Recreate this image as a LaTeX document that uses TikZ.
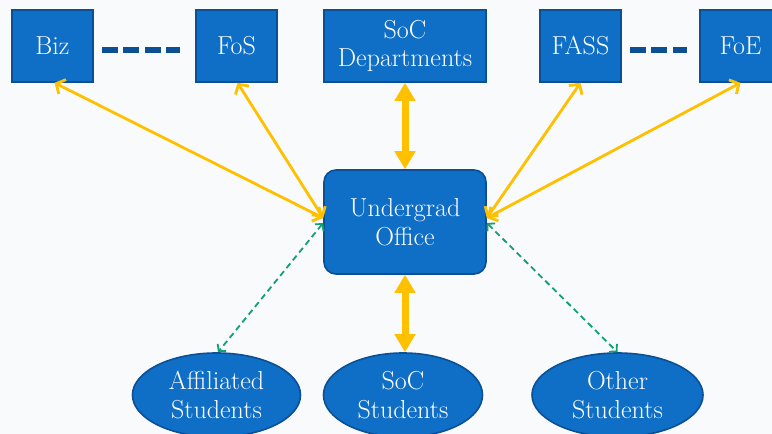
\documentclass[tikz,border=0pt]{standalone}
\usepackage{tikz}
\usepackage{xcolor}
\usetikzlibrary{arrows.meta}
\usetikzlibrary{shapes}
\definecolor{kasten}{HTML}{0F6FC6}
\definecolor{rand}{HTML}{0B4F94}
\definecolor{gelb}{HTML}{FFC000}
\definecolor{gruen}{HTML}{12A070}
\definecolor{grund}{HTML}{F8FAFC}
\tikzset{
  fakultaet/.style={draw=rand, line width=1.6pt, fill=kasten, text=white,
    minimum width=81pt, minimum height=72pt, inner sep=0pt, align=center,
    font=\fontsize{26}{28.5}\selectfont},
  buero/.style={fakultaet, minimum width=162pt, minimum height=104pt, rounded corners=12pt},
  gruppe/.style={fakultaet, ellipse, minimum width=168pt, minimum height=84pt},
  strich/.style={draw=rand, line width=5.5pt, dash pattern=on 16pt off 5.5pt},
  duenn/.style={draw=gelb, line width=2.8pt, {Straight Barb[length=7pt,width=16pt]}-{Straight Barb[length=7pt,width=16pt]}},
  dick/.style={draw=gelb, line width=7pt, {Triangle[length=18pt,width=20pt]}-{Triangle[length=18pt,width=20pt]}},
  lose/.style={draw=gruen, line width=1.8pt, dash pattern=on 6pt off 4pt, {Straight Barb[length=5pt,width=11pt]}-{Straight Barb[length=5pt,width=11pt]}}
}
\begin{document}
\begin{tikzpicture}[x=1pt, y=1pt]
\useasboundingbox (0,0) rectangle (772,434);
\fill[grund] (0,0) rectangle (772,434);
% obere Reihe:
\node[fakultaet] (biz) at (52.5,388) {Biz};
\node[fakultaet] (fos) at (236.5,388) {FoS};
\node[fakultaet, minimum width=162pt] (socdep) at (405,388) {SoC\\Departments};
\node[fakultaet] (fass) at (580.5,388) {FASS};
\node[fakultaet] (foe) at (740.5,388) {FoE};
% Mitte und untere Reihe:
\node[buero] (ug) at (405,212) {Undergrad\\Office};
\node[gruppe] (aff) at (216.5,39) {Affiliated\\Students};
\node[gruppe, minimum width=159pt] (socstud) at (403,39) {SoC\\Students};
\node[gruppe, minimum width=171pt] (other) at (617.5,39) {Other\\Students};
% gestrichelte Verbindungen oben:
\draw[strich] ([xshift=8pt,yshift=-4pt]biz.east) -- ([xshift=-15pt,yshift=-4pt]fos.west);
\draw[strich] ([xshift=8pt,yshift=-4pt]fass.east) -- ([xshift=-12pt,yshift=-4pt]foe.west);
% Pfeile zum Buero:
\draw[duenn] ([yshift=4pt]ug.west) -- ([xshift=2pt]biz.south);
\draw[duenn] ([yshift=4pt]ug.west) -- ([xshift=1pt]fos.south);
\draw[duenn] ([yshift=4pt]ug.east) -- (fass.south);
\draw[duenn] ([yshift=4pt]ug.east) -- (foe.south);
\draw[dick] (socdep.south) -- (ug.north);
\draw[dick] (ug.south) -- (ug.south |- socstud.north);
\draw[lose] ([yshift=-1pt]ug.west) -- ([xshift=1.5pt]aff.north);
\draw[lose] ([yshift=-1pt]ug.east) -- (other.north);
\end{tikzpicture}
\end{document}
